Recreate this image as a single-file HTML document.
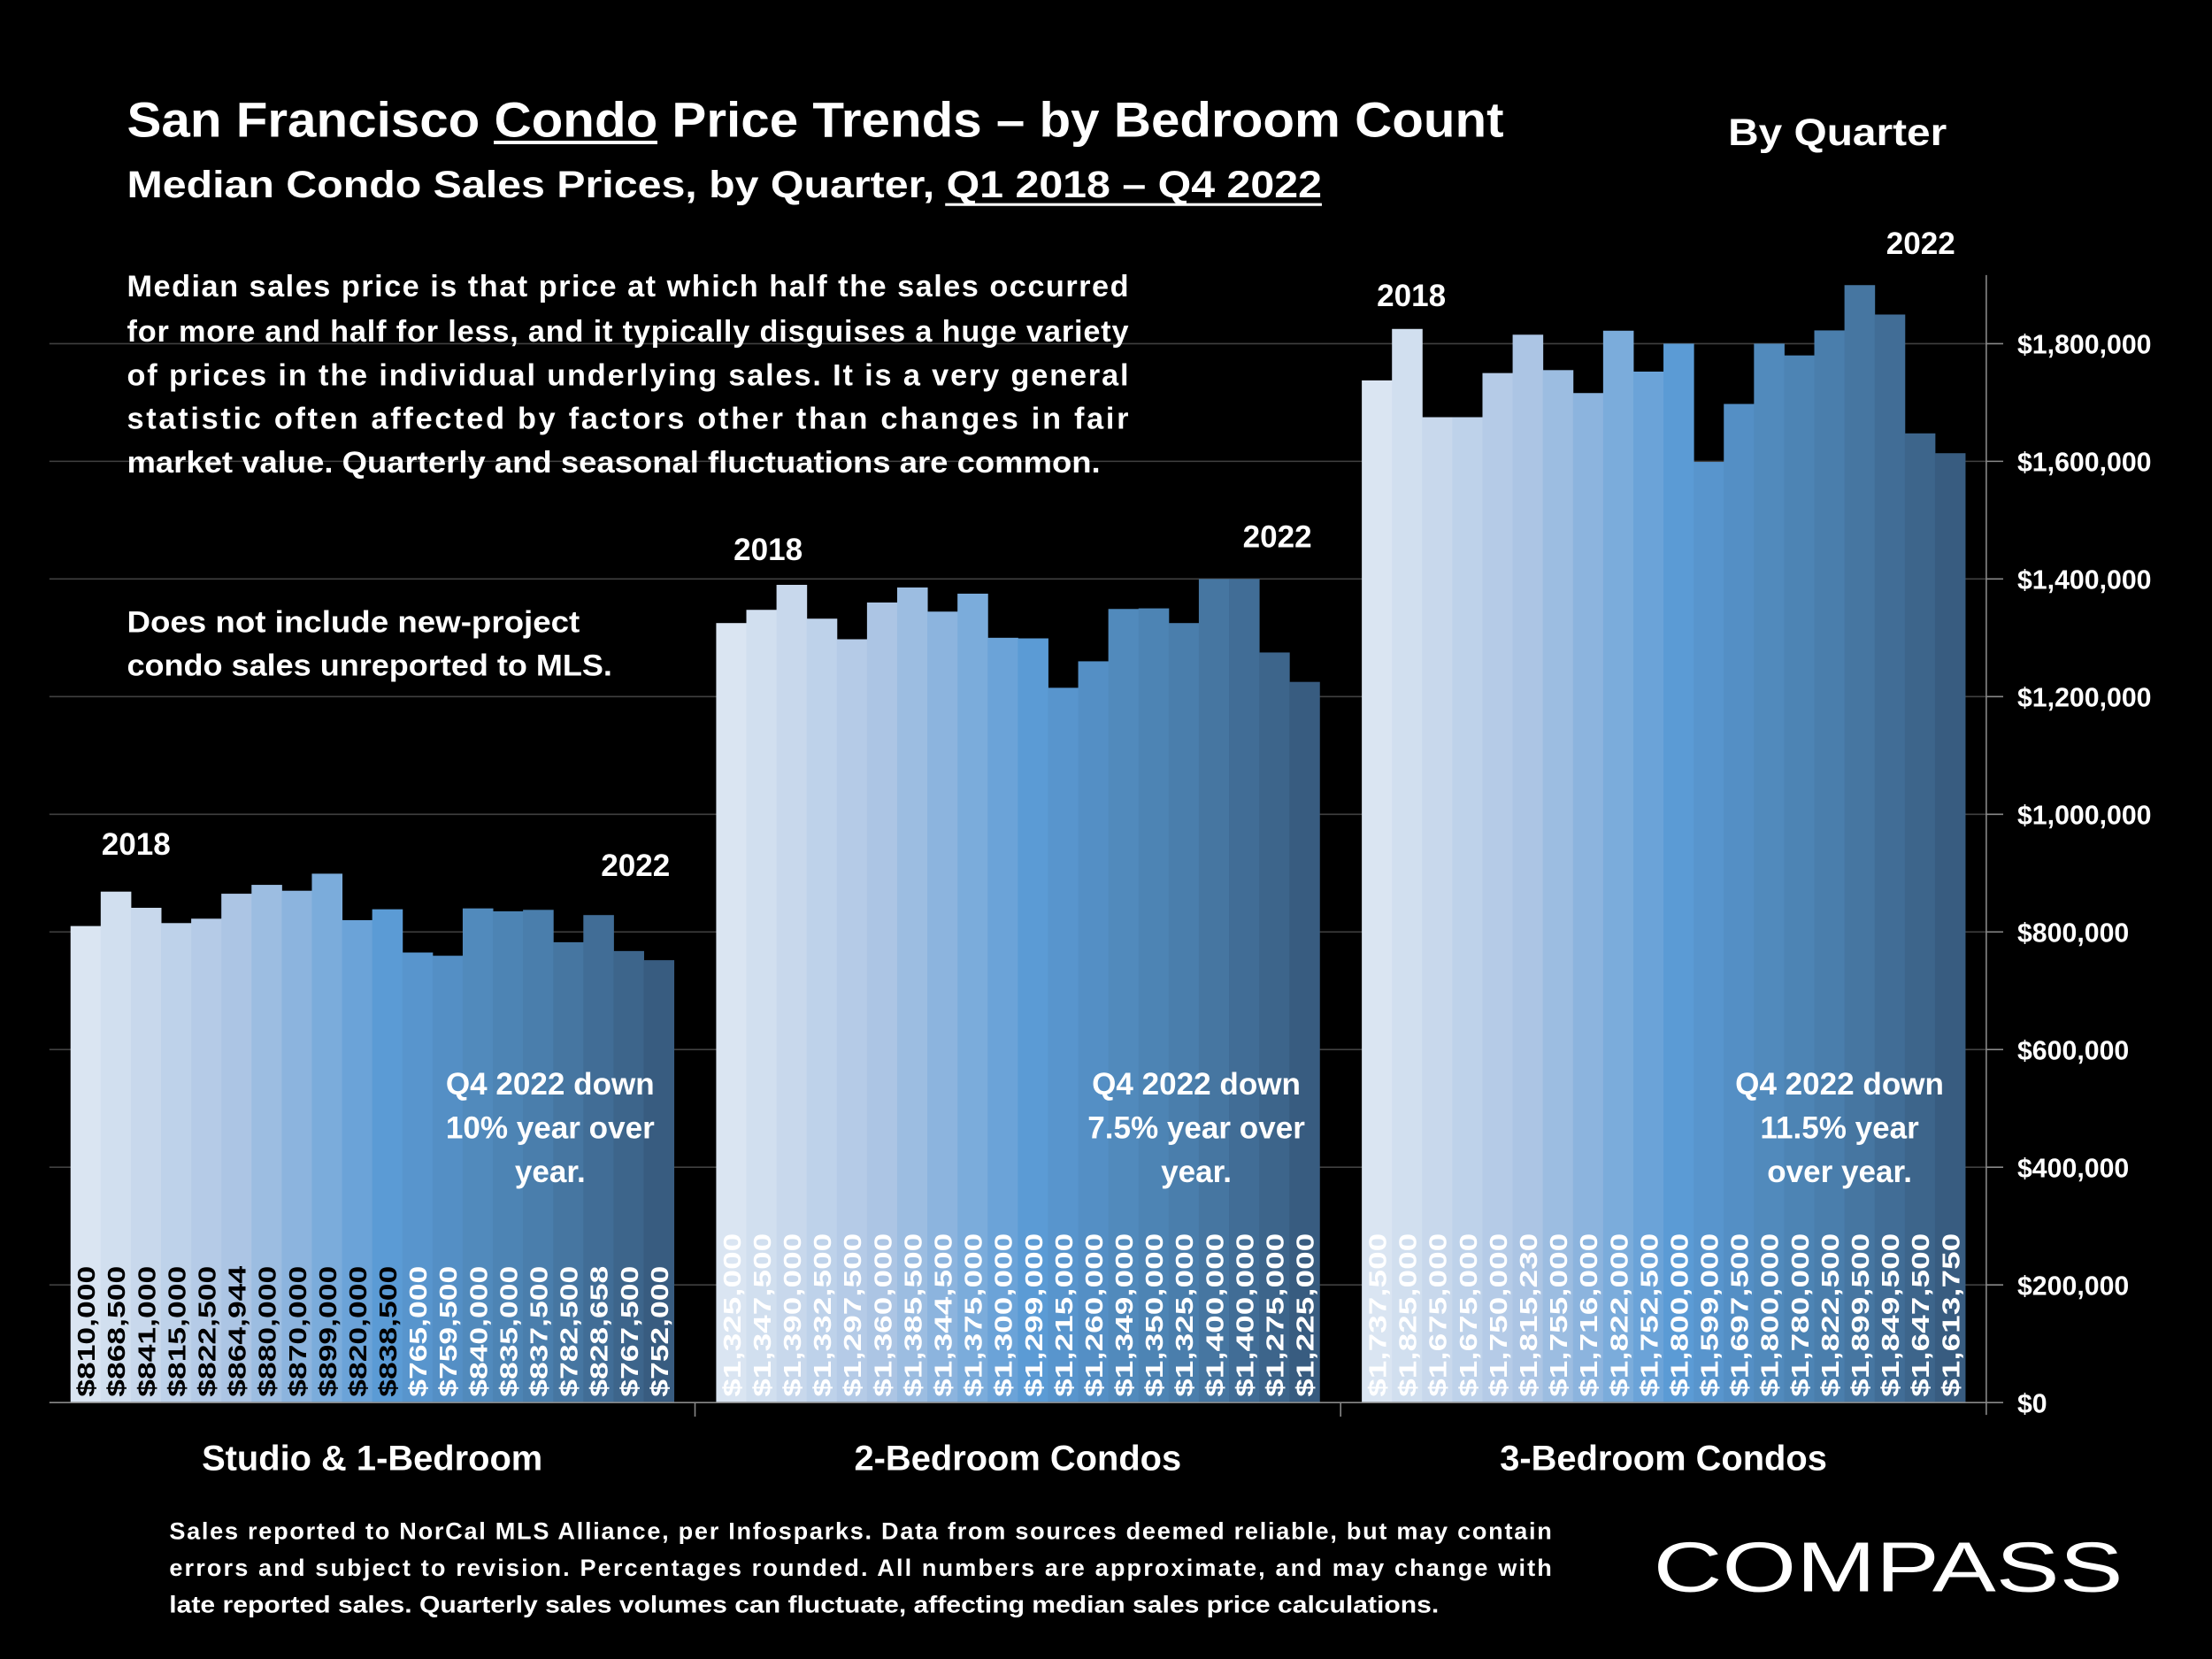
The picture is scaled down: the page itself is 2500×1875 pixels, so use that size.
<!DOCTYPE html>
<html><head><meta charset="utf-8"><style>
html,body{margin:0;padding:0;background:#000;}
svg{display:block;}
text{font-family:"Liberation Sans",sans-serif;fill:#fff;font-weight:bold;}
</style></head><body>
<svg id="chart" width="2500" height="1875" viewBox="0 0 1568 1176" xmlns="http://www.w3.org/2000/svg">
<rect width="1568" height="1176" fill="#000"/>
<g id="grid"></g>
<g id="bars"></g>
<g id="labels"></g>
<g id="axis"></g>

<text x="90" y="97" font-size="35" textLength="976" lengthAdjust="spacingAndGlyphs">San Francisco Condo Price Trends – by Bedroom Count</text>
<line x1="350" y1="101" x2="466" y2="101" stroke="#fff" stroke-width="2.5"/>
<text x="90" y="140" font-size="27" textLength="847" lengthAdjust="spacingAndGlyphs">Median Condo Sales Prices, by Quarter, Q1 2018 – Q4 2022</text>
<line x1="670" y1="145" x2="937" y2="145" stroke="#fff" stroke-width="2"/>
<text x="1225" y="103" font-size="27" textLength="155" lengthAdjust="spacingAndGlyphs">By Quarter</text>

<g font-size="21.5">
<text x="90" y="210" textLength="710" lengthAdjust="spacing">Median sales price is that price at which half the sales occurred</text>
<text x="90" y="242" textLength="710" lengthAdjust="spacing">for more and half for less, and it typically disguises a huge variety</text>
<text x="90" y="273" textLength="710" lengthAdjust="spacing">of prices in the individual underlying sales. It is a very general</text>
<text x="90" y="304" textLength="710" lengthAdjust="spacing">statistic often affected by factors other than changes in fair</text>
<text x="90" y="335" textLength="690" lengthAdjust="spacingAndGlyphs">market value. Quarterly and seasonal fluctuations are common.</text>
</g>
<g font-size="21.5">
<text x="90" y="448" textLength="321" lengthAdjust="spacingAndGlyphs">Does not include new-project</text>
<text x="90" y="479" textLength="344" lengthAdjust="spacingAndGlyphs">condo sales unreported to MLS.</text>
</g>

<g font-size="22">
<text x="72" y="606">2018</text><text x="426" y="621">2022</text>
<text x="520" y="397">2018</text><text x="881" y="388">2022</text>
<text x="976" y="217">2018</text><text x="1337" y="180">2022</text>
</g>
<g id="cats"></g>
<g font-size="22" text-anchor="middle">
<text x="390" y="776">Q4 2022 down</text><text x="390" y="807">10% year over</text><text x="390" y="838">year.</text>
<text x="848" y="776">Q4 2022 down</text><text x="848" y="807">7.5% year over</text><text x="848" y="838">year.</text>
<text x="1304" y="776">Q4 2022 down</text><text x="1304" y="807">11.5% year</text><text x="1304" y="838">over year.</text>
</g>

<g font-size="17">
<text x="120" y="1091" textLength="980" lengthAdjust="spacing">Sales reported to NorCal MLS Alliance, per Infosparks. Data from sources deemed reliable, but may contain</text>
<text x="120" y="1117" textLength="980" lengthAdjust="spacing">errors and subject to revision. Percentages rounded. All numbers are approximate, and may change with</text>
<text x="120" y="1143" textLength="900" lengthAdjust="spacingAndGlyphs">late reported sales. Quarterly sales volumes can fluctuate, affecting median sales price calculations.</text>
</g>
<g>
<text x="1172" y="1128" font-size="50" style="font-weight:normal" textLength="333" lengthAdjust="spacingAndGlyphs">COMPASS</text>
</g>
</svg>
<script>
const categories = ["Studio & 1-Bedroom","2-Bedroom Condos","3-Bedroom Condos"];
const studioValues = [810000,868500,841000,815000,822500,864944,880000,870000,899000,820000,838500,765000,759500,840000,835000,837500,782500,828658,767500,752000];
const twoBedValues = [1325000,1347500,1390000,1332500,1297500,1360000,1385500,1344500,1375000,1300000,1299000,1215000,1260000,1349000,1350000,1325000,1400000,1400000,1275000,1225000];
const threeBedValues = [1737500,1825000,1675000,1675000,1750000,1815230,1755000,1716000,1822000,1752500,1800000,1599000,1697500,1800000,1780000,1822500,1899500,1849500,1647500,1613750];
const yTicks = [0,200000,400000,600000,800000,1000000,1200000,1400000,1600000,1800000];

const NS="http://www.w3.org/2000/svg";
const plotL=35, plotR=1408, y0=994.2, pxPer=83.4/200000;
const catW=(plotR-plotL)/categories.length, inset=15, barW=(catW-2*inset)/20;
function yS(v){return y0 - v*pxPer;}
function catX(i){return plotL + i*catW + inset;}
function fmt(v){return "$"+v.toLocaleString("en-US");}
function mk(tag,attrs,parent){const e=document.createElementNS(NS,tag);for(const k in attrs)e.setAttribute(k,attrs[k]);parent.appendChild(e);return e;}
const stops=[[0,[218,229,242]],[5,[172,197,228]],[10,[91,155,213]],[15,[74,126,172]],[19,[56,92,128]]];
function col(i){for(let s=0;s<stops.length-1;s++){const a=stops[s],b=stops[s+1];if(i<=b[0]){const t=(i-a[0])/(b[0]-a[0]);return "rgb("+a[1].map((c,k)=>Math.round(c+(b[1][k]-c)*t)).join(",")+")";}}return "rgb(56,92,128)";}

const grid=document.getElementById("grid"), axis=document.getElementById("axis");
yTicks.forEach(t=>{
  if(t>0){const l=mk("line",{x1:plotL,x2:plotR,y1:yS(t),y2:yS(t),stroke:"#404040","stroke-width":1},grid);
  
  }
  const tk=mk("line",{x1:plotR,x2:plotR+12,y1:yS(t),y2:yS(t),stroke:"#888","stroke-width":1},axis);
  
  
  const tx=mk("text",{x:1430,y:yS(t)+7,"font-size":19},axis);
  
  
  tx.textContent=fmt(t);
});
const ax=mk("line",{x1:plotR,x2:plotR,y1:195,y2:1003,stroke:"#888","stroke-width":1},axis);


const bx=mk("line",{x1:plotL,x2:plotR,y1:y0,y2:y0,stroke:"#888","stroke-width":1},axis);


for(let i=1;i<3;i++){const d=mk("line",{x1:plotL+i*catW,x2:plotL+i*catW,y1:y0,y2:y0+10,stroke:"#888"},axis);

}

const barsG=document.getElementById("bars"), labG=document.getElementById("labels"), catG=document.getElementById("cats");
[studioValues,twoBedValues,threeBedValues].forEach((vals,g)=>{
  vals.forEach((v,i)=>{
    const x=catX(g)+i*barW;
    const r=mk("rect",{x:x,y:yS(v),width:barW+0.3,height:y0-yS(v),fill:col(i)},barsG);
    
    
    const s=fmt(v);
    const fc=(g===0&&i<11)?"#000":"#fff";
    const t=mk("text",{x:0,y:0,"font-size":17.5,style:"font-weight:bold;fill:"+fc,
      transform:"translate("+(x+barW/2+6.5)+","+(y0-4)+") rotate(-90)",textLength:s.length*11.6,lengthAdjust:"spacingAndGlyphs"},labG);
    
    
    t.textContent=s;
  });
  const c=mk("text",{x:plotL+g*catW+catW/2,y:1042,"font-size":25,"text-anchor":"middle"},catG);
  
  
  c.textContent=categories[g];
});
</script>
</body></html>
